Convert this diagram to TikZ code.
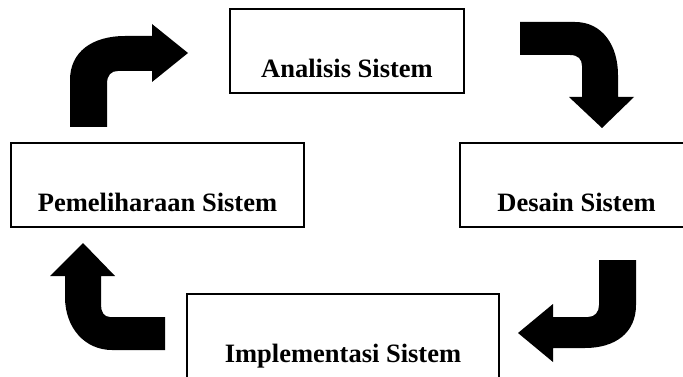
\documentclass[tikz,border=0pt]{standalone}
\usepackage{fontspec}
\setmainfont{Liberation Serif}
\usepackage{tikz}
\usetikzlibrary{positioning}
\tikzstyle{box}=[draw=black, line width=1.3pt, minimum height=84pt, inner sep=0pt]
\tikzstyle{txt}=[font=\fontsize{26.5}{30}\selectfont\bfseries, inner sep=0pt, anchor=base]
\tikzstyle{blk}=[fill=black]
\begin{document}
\begin{tikzpicture}
[x=1pt, y=-1pt]
\useasboundingbox (0,0) rectangle (683,377);
\node[box, minimum width=234pt] (1) at (347,51) {};
\node[box, minimum width=233pt] (2) at (576.5,185) {};
\node[box, minimum width=312pt] (3) at (343,336) {};
\node[box, minimum width=293pt] (4) at (157.5,185) {};
\node[txt, above=16pt of 1.south, anchor=base] (t1) {Analisis Sistem};
\node[txt, above=16pt of 2.south, anchor=base] (t2) {Desain Sistem};
\node[txt, above=16pt of 3.south, anchor=base] (t3) {Implementasi Sistem};
\node[txt, above=16pt of 4.south, anchor=base] (t4) {Pemeliharaan Sistem};
% arrows
\fill[blk] (520,22) -- (575,22) .. controls (602,22) and (618,45) .. (618,75)
  -- (618,97) -- (634,97) -- (602,128) -- (569,97) -- (582,97) -- (582,66)
  .. controls (582,59) and (578,55) .. (570,55) -- (520,55) -- cycle;
\fill[blk] (599,260) -- (636,260) -- (636,305) .. controls (636,333) and (615,348) .. (585,348)
  -- (553,348) -- (553,362) -- (518,333) -- (553,304) -- (553,317) -- (588,317)
  .. controls (595,317) and (599,312) .. (599,305) -- cycle;
\fill[blk] (165,317) -- (110,317) .. controls (104,317) and (101,312) .. (101,305)
  -- (101,276) -- (115,276) -- (83,243) -- (50,276) -- (65,276) -- (65,297)
  .. controls (65,328) and (85,350) .. (112,350) -- (165,350) -- cycle;
\fill[blk] (70,127) -- (70,80) .. controls (70,52) and (92,36) .. (125,36)
  -- (152,36) -- (152,24) -- (188,53) -- (152,82) -- (152,71) -- (118,71)
  .. controls (111,71) and (107,75) .. (107,84) -- (107,127) -- cycle;
\end{tikzpicture}
\end{document}
